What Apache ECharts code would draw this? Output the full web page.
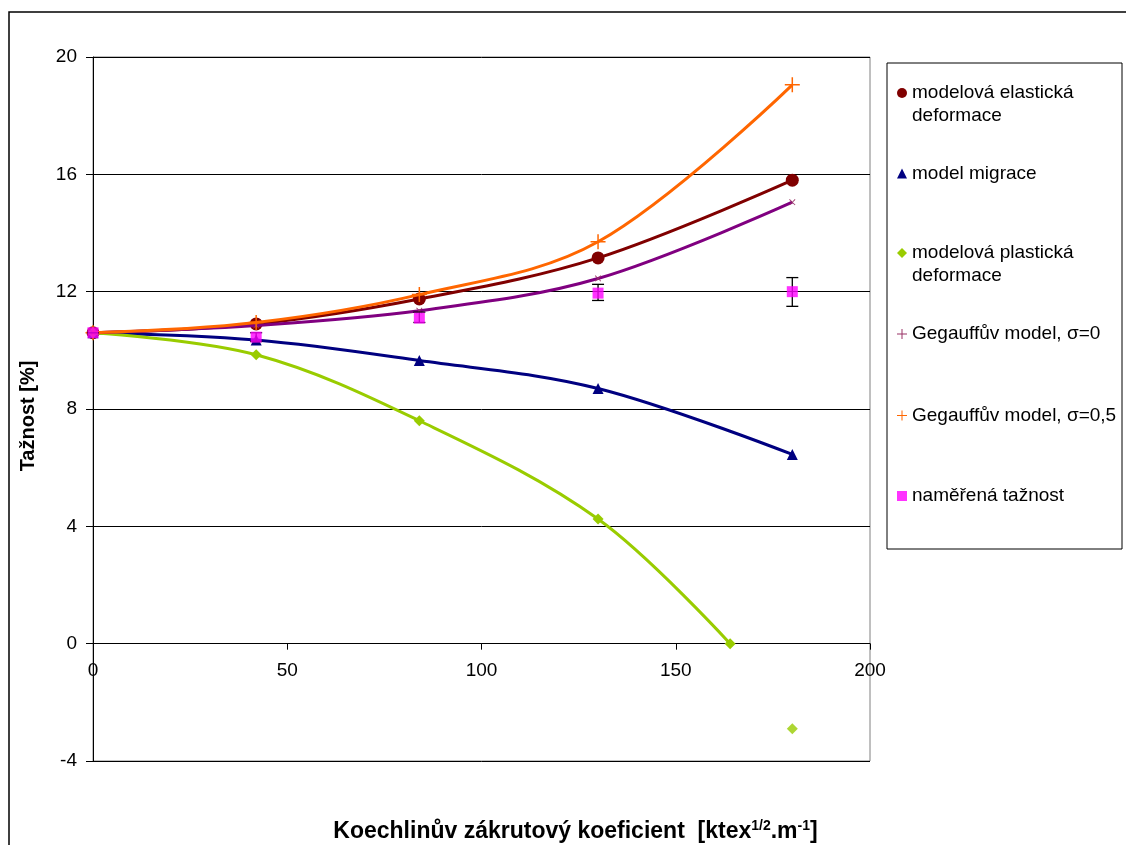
<!DOCTYPE html>
<html>
<head>
<meta charset="utf-8">
<script src="https://cdn.jsdelivr.net/npm/echarts@6/dist/echarts.min.js"></script>
<style>html,body{margin:0;padding:0;background:#fff;}#c{width:1126px;height:845px;}</style>
</head>
<body>
<div id="c"></div>
<script>
// ---- data ----
const xVals = [0, 42, 84, 130, 180];
const elastic = [10.6, 10.9, 11.75, 13.15, 15.8];
const migrace = [10.6, 10.35, 9.65, 8.7, 6.45];
const plasticX = [0, 42, 84, 130, 164, 180];
const plastic = [10.6, 9.85, 7.6, 4.25, 0, -2.9];
const geg0 = [10.6, 10.85, 11.35, 12.45, 15.05];
const geg05 = [10.6, 10.95, 11.9, 13.7, 19.05];
const measured = [10.6, 10.45, 11.1, 11.95, 12.0];
const errLow = [10.6, 10.3, 10.95, 11.7, 11.5];
const errHigh = [10.6, 10.6, 11.3, 12.25, 12.48];
const yTicks = [-4, 0, 4, 8, 12, 16, 20];
const xTicks = [0, 50, 100, 150, 200];

const names = {
  el: 'modelová elastická deformace',
  mi: 'model migrace',
  pl: 'modelová plastická deformace',
  g0: 'Gegauffův model, σ=0',
  g5: 'Gegauffův model, σ=0,5',
  me: 'naměřená tažnost'
};
const legendLabels = {
  'modelová elastická deformace': '\u00a0\nmodelová elastická\ndeformace',
  'modelová plastická deformace': '\u00a0\nmodelová plastická\ndeformace'
};
const FONT = "'Liberation Sans', Arial, sans-serif";
const plusPath = 'path://M9,0H11V9H20V11H11V20H9V11H0V9H9Z';
const crossPath = 'path://M9,0H11V9H20V11H11V20H9V11H0V9H9Z';

function pairs(xs, ys) { return xs.map((x, i) => [x, ys[i]]); }

// plastic: line up to zero, separate last point
const plasticLine = pairs(plasticX.slice(0, 5), plastic.slice(0, 5));
const plasticLast = pairs(plasticX.slice(5), plastic.slice(5));

// layout
const GRID = { left: 93, top: 57, right: 256, bottom: 84 };
const plotH = 845 - GRID.top - GRID.bottom;
const yMin = yTicks[0], yMax = yTicks[yTicks.length - 1];
const zeroOffset = -plotH * (0 - yMin) / (yMax - yMin); // x axis sits at y = 0

function mkLegend(name, icon, top) {
  return {
    show: true, orient: 'vertical', left: 897, top: top, padding: 0,
    itemWidth: 10, itemHeight: 10, selectedMode: false,
    data: [{ name: name, icon: icon }],
    formatter: (n) => legendLabels[n] || n,
    textStyle: { fontFamily: FONT, fontSize: 19, color: '#000', lineHeight: 23 }
  };
}

const option = {
  animation: false,
  backgroundColor: '#fff',
  textStyle: { fontFamily: FONT },
  grid: Object.assign({ outerBoundsMode: 'none', containLabel: false,
          show: true, borderColor: '#808080', borderWidth: 1 }, GRID),
  graphic: [
    { type: 'rect', shape: { x: 9, y: 12, width: 1200, height: 900 }, style: { fill: 'none', stroke: '#000', lineWidth: 1.5 }, silent: true },
    { type: 'rect', shape: { x: 887, y: 63, width: 235, height: 486 }, style: { fill: 'none', stroke: '#000', lineWidth: 1 }, silent: true }
  ],
  legend: [
    mkLegend(names.el, 'circle', 58.5),
    mkLegend(names.mi, 'triangle', 162),
    mkLegend(names.pl, 'diamond', 218.5),
    mkLegend(names.g0, crossPath, 322.5),
    mkLegend(names.g5, plusPath, 404),
    mkLegend(names.me, 'rect', 484.5)
  ],
  xAxis: {
    type: 'value', min: xTicks[0], max: xTicks[xTicks.length - 1], interval: 50,
    position: 'bottom', offset: zeroOffset,
    axisLine: { onZero: false, lineStyle: { color: '#000', width: 1 } },
    axisTick: { show: true, length: 6, lineStyle: { color: '#000' } },
    axisLabel: { fontSize: 19, color: '#000', margin: 18, fontFamily: FONT },
    splitLine: { show: false },
    name: 'Koechlinův zákrutový koeficient  [ktex{sup|1/2}.m{sup|-1}]',
    nameLocation: 'middle', nameGap: 175,
    nameTextStyle: {
      fontFamily: FONT, fontWeight: 'bold', fontSize: 23, color: '#000',
      padding: [0, 0, 0, 188],
      rich: { sup: { fontFamily: FONT, fontWeight: 'bold', fontSize: 14, color: '#000', verticalAlign: 'bottom', padding: [0, 0, 11, 0] } }
    }
  },
  yAxis: [{
    type: 'value', min: yMin, max: yMax, interval: 4,
    axisLine: { show: true, onZero: false, lineStyle: { color: '#000', width: 1 } },
    axisTick: { show: true, length: 7, lineStyle: { color: '#000' } },
    axisLabel: { fontSize: 19, color: '#000', margin: 16, fontFamily: FONT },
    splitLine: { show: true, lineStyle: { color: '#000', width: 1 } },
    name: 'Tažnost [%]', nameLocation: 'middle', nameGap: 55, nameRotate: 90,
    nameTextStyle: { fontFamily: FONT, fontWeight: 'bold', fontSize: 20, color: '#000', padding: [0, 14, 0, 0] }
  }, {
    type: 'value', min: yMin, max: yMax, interval: 4, position: 'left',
    axisLine: { show: false }, axisLabel: { show: false }, splitLine: { show: false },
    axisTick: { show: true, inside: true, length: 7, lineStyle: { color: '#000' } }
  }],
  series: [
    {
      name: names.el, type: 'line', smooth: 0.35, data: pairs(xVals, elastic),
      symbol: 'circle', symbolSize: 13, showAllSymbol: true,
      lineStyle: { color: '#800000', width: 3 }, itemStyle: { color: '#800000' }, z: 2
    },
    {
      name: names.mi, type: 'line', smooth: 0.35, data: pairs(xVals, migrace),
      symbol: 'triangle', symbolSize: 11,
      lineStyle: { color: '#000080', width: 3 }, itemStyle: { color: '#000080' }, z: 3
    },
    {
      name: names.pl, type: 'line', smooth: 0.35, data: plasticLine,
      symbol: 'diamond', symbolSize: 11,
      lineStyle: { color: '#99CC00', width: 3 }, itemStyle: { color: '#99CC00' }, z: 4
    },
    {
      name: names.pl, type: 'scatter', data: plasticLast,
      symbol: 'diamond', symbolSize: 11, itemStyle: { color: '#99CC00' }, z: 4
    },
    {
      name: names.g0, type: 'line', smooth: 0.35, data: pairs(xVals, geg0),
      symbol: crossPath, symbolRotate: 45, symbolSize: 8,
      lineStyle: { color: '#800080', width: 3 }, itemStyle: { color: '#993366' }, z: 5
    },
    {
      name: names.g5, type: 'line', smooth: 0.35, data: pairs(xVals, geg05),
      symbol: plusPath, symbolSize: 15,
      lineStyle: { color: '#FF6600', width: 3 }, itemStyle: { color: '#FF6600' }, z: 6
    },
    {
      name: 'chyba měření', type: 'custom', z: 7,
      data: xVals.map((x, i) => [x, errLow[i], errHigh[i]]),
      encode: { x: 0, y: [1, 2] },
      renderItem: function (params, api) {
        const x = api.value(0), lo = api.value(1), hi = api.value(2);
        const a = api.coord([x, lo]), b = api.coord([x, hi]);
        const w = 6;
        const st = { stroke: '#000', lineWidth: 1.3 };
        return {
          type: 'group', children: [
            { type: 'line', shape: { x1: a[0], y1: a[1], x2: b[0], y2: b[1] }, style: st },
            { type: 'line', shape: { x1: a[0] - w, y1: a[1], x2: a[0] + w, y2: a[1] }, style: st },
            { type: 'line', shape: { x1: b[0] - w, y1: b[1], x2: b[0] + w, y2: b[1] }, style: st }
          ]
        };
      }
    },
    {
      name: names.me, type: 'scatter', data: pairs(xVals, measured),
      symbol: 'rect', symbolSize: 11, itemStyle: { color: '#FF00FF' }, z: 8
    }
  ]
};
const chart = echarts.init(document.getElementById('c'), null, { renderer: 'canvas' });
chart.setOption(option);
</script>
</body>
</html>
